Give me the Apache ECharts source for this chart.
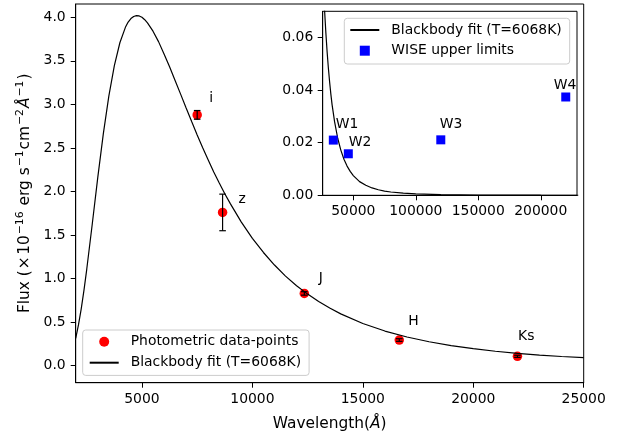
<!DOCTYPE html>
<html><head><meta charset="utf-8">
<script src="https://cdn.jsdelivr.net/npm/echarts@6/dist/echarts.min.js"></script>
<style>html,body{margin:0;padding:0;background:#fff}#c{width:628px;height:438px}</style>
</head><body><div id="c"></div>
<script>
// ---- data ----
const bbWave = [2000,2125,2250,2375,2500,2750,3000,3250,3500,3750,4000,4250,4375,4500,4625,4750,4875,5000,5125,5250,5500,5750,6000,6250,6500,6750,7000,7250,7500,7750,8000,8250,8500,8750,9000,9500,10000,10500,11000,11500,12000,12500,13000,13500,14000,15000,16000,17000,18000,19000,20000,21000,22000,23000,24000,25000];
const bbFlux = [0.315,0.468,0.653,0.868,1.107,1.627,2.162,2.661,3.095,3.445,3.708,3.885,3.946,3.986,4.010,4.020,4.016,4.001,3.973,3.937,3.841,3.721,3.580,3.432,3.275,3.118,2.958,2.803,2.650,2.502,2.362,2.225,2.097,1.975,1.861,1.649,1.463,1.300,1.156,1.029,0.919,0.822,0.737,0.662,0.595,0.485,0.398,0.330,0.275,0.231,0.196,0.166,0.142,0.122,0.106,0.092];
const insetWave = [24000,25000,26000,27000,28000,29000,30000,31000,32000,33000,35000,37500,40000,42500,45000,47500,50000,55000,60000,65000,70000,75000,80000,90000,100000,120000,150000,200000,230000];
const insetFlux = [0.106,0.092,0.0804,0.0704,0.0620,0.0548,0.0486,0.0433,0.0386,0.0345,0.0280,0.0217,0.0172,0.0137,0.0111,0.0091,0.0075,0.0052,0.0038,0.0028,0.0021,0.0016,0.00126,0.0008,0.00053,0.00026,0.00011,0.000035,0.00002];
const photWave = [7500, 8650, 12350, 16650, 22000];
const photFlux = [2.88, 1.76, 0.83, 0.295, 0.108];
const photErr = [0.05, 0.21, 0.02, 0.015, 0.012];
const photBand = ['i', 'z', 'J', 'H', 'Ks'];
const wiseWave = [34000, 46000, 120000, 220000];
const wiseFlux = [0.021, 0.0158, 0.0211, 0.0374];
const wiseBand = ['W1', 'W2', 'W3', 'W4'];
const mainXTicks = [5000, 10000, 15000, 20000, 25000];
const mainYTicks = [0, 0.5, 1, 1.5, 2, 2.5, 3, 3.5, 4];
const insetXTicks = [50000, 100000, 150000, 200000];
const insetYTicks = [0, 0.02, 0.04, 0.06];

// ---- styling ----
const FONT = 'DejaVu Sans';
const FS = 13.9;
const NFS = 15.4;
const photLabelOffset = [[14,-16],[19.6,-13],[16.5,-15],[14.3,-19],[8.8,-20.3]];
const wiseLabelOffset = [[13.7,-15.7],[11.8,-11],[10.2,-15.7],[-0.8,-12]];
const BBNAME = 'Blackbody fit (T=6068K)';

function axisCommon(ticks, fmt, margin) {
  return {
    axisLine: {show: true, onZero: false, lineStyle: {color: '#000', width: 1}},
    axisTick: {show: true, inside: false, length: 5, customValues: ticks, lineStyle: {color: '#000', width: 1}},
    axisLabel: {show: true, customValues: ticks, formatter: fmt, margin: margin, color: '#000', fontFamily: FONT, fontSize: FS},
    splitLine: {show: false}
  };
}

function errRender(params, api) {
  const lo = api.coord([api.value(0), api.value(1)]);
  const hi = api.coord([api.value(0), api.value(2)]);
  const c = 3.3;
  const st = {stroke: '#000', lineWidth: 1.2};
  return {type: 'group', children: [
    {type: 'line', shape: {x1: lo[0], y1: lo[1], x2: hi[0], y2: hi[1]}, style: st},
    {type: 'line', shape: {x1: lo[0]-c, y1: lo[1], x2: lo[0]+c, y2: lo[1]}, style: st},
    {type: 'line', shape: {x1: hi[0]-c, y1: hi[1], x2: hi[0]+c, y2: hi[1]}, style: st}
  ]};
}

const legendBase = {
  orient: 'vertical', itemWidth: 29, itemHeight: 10, itemGap: 5,
  backgroundColor: 'rgba(255,255,255,0.8)', borderColor: '#cccccc', borderWidth: 1, borderRadius: 3,
  textStyle: {color: '#000', fontFamily: FONT, fontSize: FS, lineHeight: 16, padding: [0,0,0,7]},
  selectedMode: false
};

const baseTok = {fontFamily: FONT, fontSize: NFS, color: '#000', lineHeight: 18, padding: [5,0,0,0], verticalAlign: 'bottom'};
const opTok = {fontFamily: FONT, fontSize: NFS, color: '#000', lineHeight: 18, padding: [5,1.5,0,1], verticalAlign: 'bottom'};
const supTok = {fontFamily: FONT, fontSize: 10.8, color: '#000', lineHeight: 12, padding: [0,1,0,1], verticalAlign: 'top'};
const itTok = {fontFamily: FONT, fontSize: NFS, color: '#000', fontStyle: 'italic', lineHeight: 18, padding: [5,0,0,0], verticalAlign: 'bottom'};

const yName = '{b|Flux (}{o|×}{b|10}{s|−16}{b| erg s}{s|−1}{b|cm}{s|−2}{i|Å}{s|−1}{b|)}';
const xName = '{b|Wavelength(}{i|Å}{b|)}';

const option = {
  animation: false,
  backgroundColor: '#fff',
  grid: [
    {left: 75.7, top: 4, right: 44.3, bottom: 55.3, show: true, borderColor: '#000', borderWidth: 1, backgroundColor: '#fff', containLabel: false},
    {left: 322.7, top: 11.3, right: 51, bottom: 242.7, show: true, borderColor: '#000', borderWidth: 1, backgroundColor: '#fff', containLabel: false, z: 10}
  ],
  xAxis: [
    Object.assign({type: 'value', gridIndex: 0, min: 2000, max: 25000,
      name: xName, nameLocation: 'middle', nameGap: 25,
      nameTextStyle: {rich: {b: baseTok, i: itTok}}},
      axisCommon(mainXTicks, v => String(v), 9.5)),
    Object.assign({type: 'value', gridIndex: 1, min: 25500, max: 229000, z: 10},
      axisCommon(insetXTicks, v => String(v), 9.5))
  ],
  yAxis: [
    Object.assign({type: 'value', gridIndex: 0, min: -0.195, max: 4.153,
      name: yName, nameLocation: 'middle', nameGap: 39,
      nameTextStyle: {rich: {b: baseTok, o: opTok, s: supTok, i: itTok}}},
      axisCommon(mainYTicks, v => v.toFixed(1), 10)),
    Object.assign({type: 'value', gridIndex: 1, min: 0, max: 0.07, z: 10},
      axisCommon(insetYTicks, v => v.toFixed(2), 9.4))
  ],
  legend: [
    Object.assign({}, legendBase, {left: 82.7, top: 330, padding: [3.7, 8, 4.7, 6],
      data: [{name: 'Photometric data-points', icon: 'circle'}, {name: BBNAME, itemStyle: {opacity: 0}}]}),
    Object.assign({}, legendBase, {left: 344.3, top: 18.3, padding: [3.7, 8, 5.3, 5], itemGap: 4.7, z: 20,
      data: [{name: BBNAME, itemStyle: {opacity: 0}}, {name: 'WISE upper limits', icon: 'path://M0,0H10V10H0Z'}]})
  ],
  series: [
    {
      name: 'Photometric data-points', type: 'scatter', xAxisIndex: 0, yAxisIndex: 0, z: 2,
      symbol: 'circle', symbolSize: 9.5, itemStyle: {color: '#ff0000', opacity: 1},
      data: photWave.map((w, i) => ({value: [w, photFlux[i]], label: {offset: photLabelOffset[i]}})),
      label: {show: true, position: 'inside', formatter: p => photBand[p.dataIndex], color: '#000', fontFamily: FONT, fontSize: FS},
      emphasis: {disabled: true}
    },
    {
      name: BBNAME, type: 'line', xAxisIndex: 0, yAxisIndex: 0, z: 3,
      symbol: 'none', showSymbol: false, smooth: false,
      lineStyle: {color: '#000', width: 1.2}, itemStyle: {color: '#000'},
      data: bbWave.map((w, i) => [w, bbFlux[i]]),
      emphasis: {disabled: true}
    },
    {
      type: 'custom', xAxisIndex: 0, yAxisIndex: 0, z: 4, silent: true,
      data: photWave.map((w, i) => [w, photFlux[i] - photErr[i], photFlux[i] + photErr[i]]),
      encode: {x: 0, y: [1, 2]},
      renderItem: errRender
    },
    {
      name: BBNAME, type: 'line', xAxisIndex: 1, yAxisIndex: 1, z: 11, clip: true,
      symbol: 'none', showSymbol: false, smooth: false,
      lineStyle: {color: '#000', width: 1.2}, itemStyle: {color: '#000'},
      data: insetWave.map((w, i) => [w, insetFlux[i]]),
      emphasis: {disabled: true}
    },
    {
      name: 'WISE upper limits', type: 'scatter', xAxisIndex: 1, yAxisIndex: 1, z: 12,
      symbol: 'rect', symbolSize: 9, itemStyle: {color: '#0000ff', opacity: 1},
      data: wiseWave.map((w, i) => ({value: [w, wiseFlux[i]], label: {offset: wiseLabelOffset[i]}})),
      label: {show: true, position: 'inside', formatter: p => wiseBand[p.dataIndex], color: '#000', fontFamily: FONT, fontSize: FS},
      emphasis: {disabled: true}
    }
  ]
};

const chart = echarts.init(document.getElementById('c'), null, {renderer: 'canvas'});
chart.setOption(option);
</script>
</body></html>
